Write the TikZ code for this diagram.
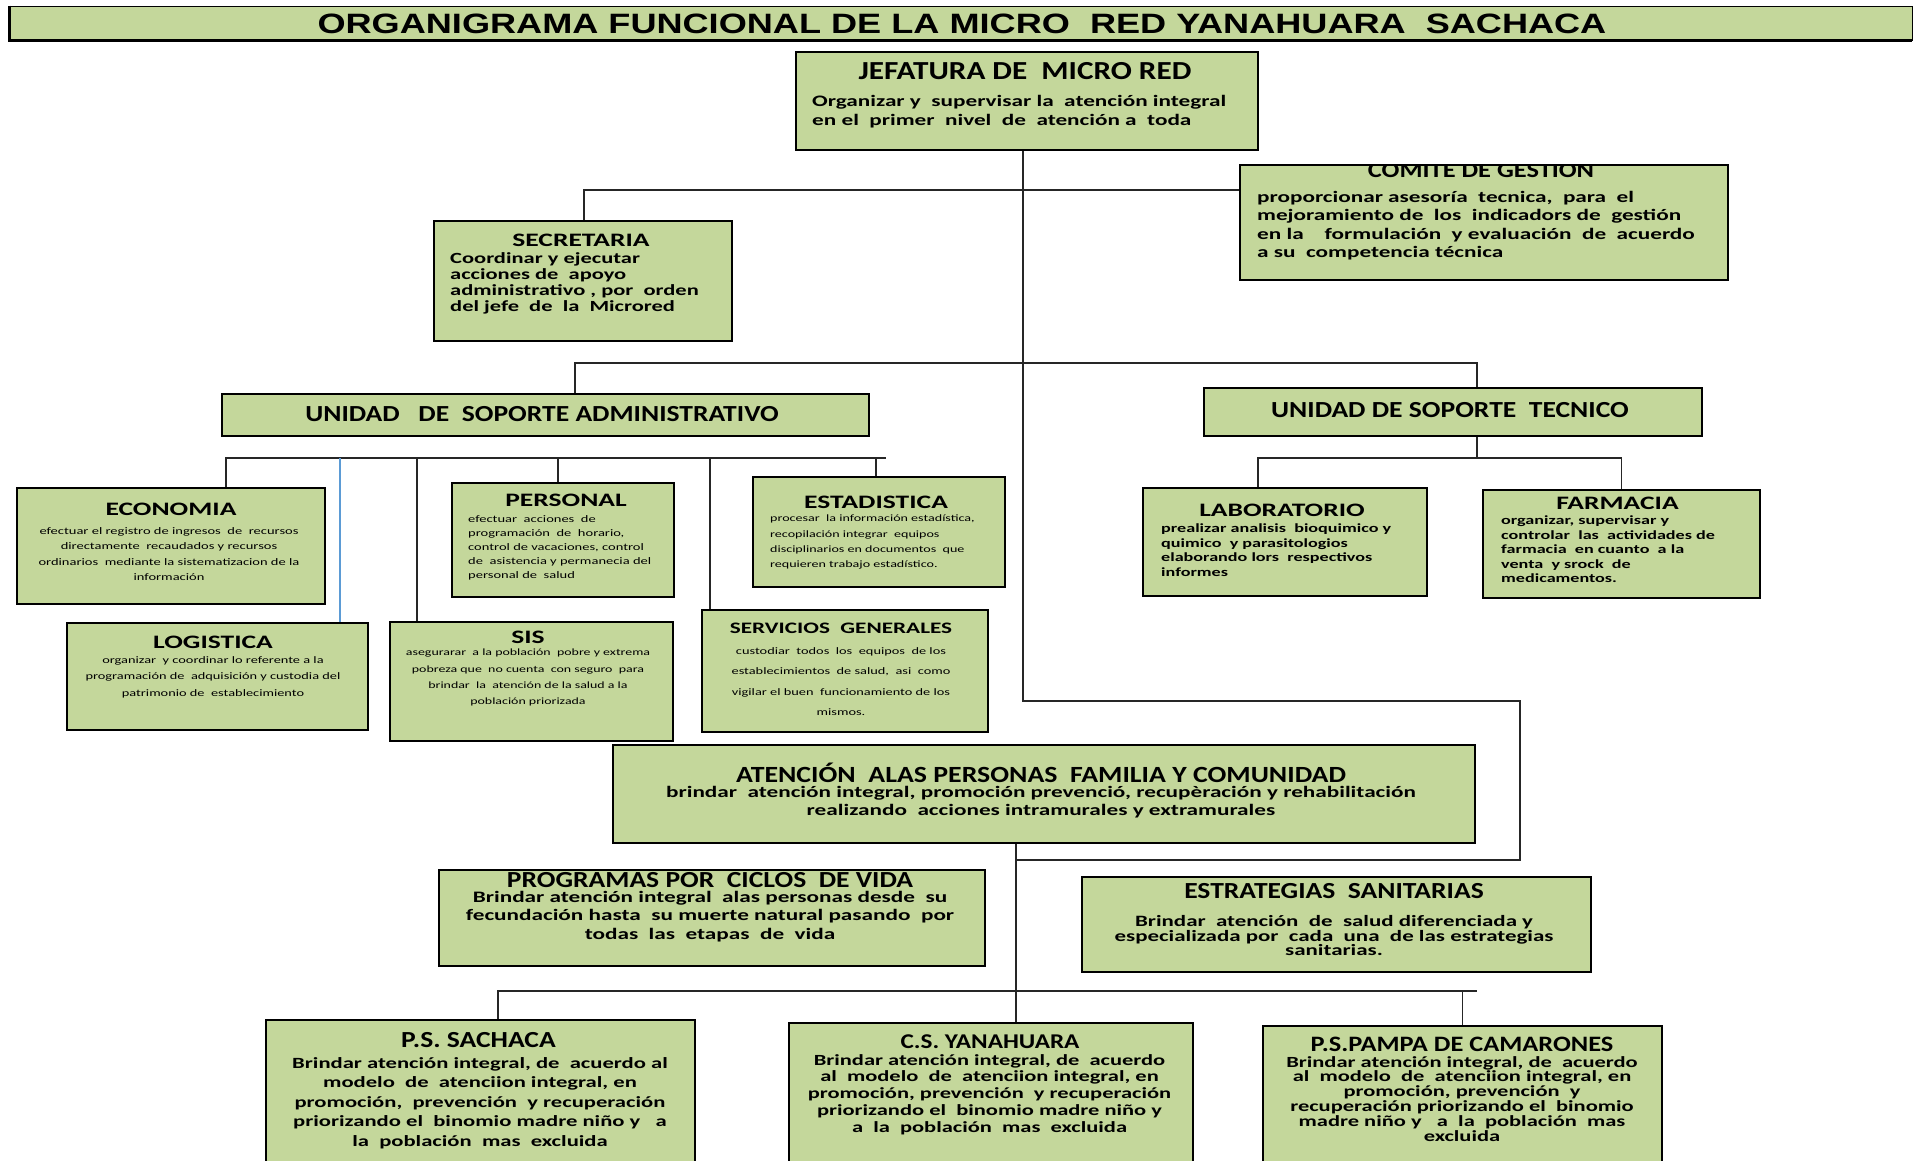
\documentclass[tikz,border=0pt]{standalone}
\usepackage{fontspec}
\setmainfont{Carlito}[FakeStretch=1.2]
\newfontfamily\ancha{Carlito}[FakeStretch=1.45]
\newfontfamily\titfont{Liberation Sans}[FakeStretch=1.29]
\definecolor{verdeorg}{HTML}{C4D79B}
\definecolor{azul}{HTML}{5B9BD5}
\tikzset{
	caja/.style={draw=black, line width=1.6pt, fill=verdeorg, inner sep=0pt},
	linea/.style={draw=black!85, line width=1.4pt},
	titulo/.style={inner sep=0pt, font=\bfseries\fontsize{23}{24}\selectfont},
	subt/.style={inner sep=0pt, font=\ancha\bfseries\fontsize{19}{20}\selectfont},
	cuerpo/.style={inner sep=0pt, anchor=north, align=center},
	izq/.style={inner sep=0pt, anchor=north west, align=left},
}

\begin{document}
\begin{tikzpicture}[x=1pt,y=-1pt]
	\useasboundingbox (0,0) rectangle (1919,1160);
	\fill[white] (0,0) rectangle (1919,1160);

	% barra del titulo
	\node[caja, line width=0.8pt, minimum width=1902, minimum height=34] (barra) at (961,23) {};
	\draw[line width=3pt] (barra.north west) |- (barra.south east);
	\node[inner sep=0pt, font=\titfont\bfseries\fontsize{28}{28}\selectfont] (barraT) at (962,24) {ORGANIGRAMA FUNCIONAL DE LA MICRO\ \ RED YANAHUARA\ \ SACHACA};

	% jefatura y organos de apoyo
	\node[caja, minimum width=462, minimum height=98] (jef) at (1027,101) {};
	\node[titulo, font=\bfseries\fontsize{26}{26}\selectfont] (jefT) at (1025,71) {JEFATURA DE\ \ MICRO RED};
	\node[izq, font=\ancha\bfseries\fontsize{16}{19}\selectfont] (jefB) at (812,95) {Organizar y\ \ supervisar la\ \ atención integral\\en el\ \ primer\ \ nivel\ \ de\ \ atención a\ \ toda};

	\node[caja, minimum width=488, minimum height=115] (com) at (1484,222.5) {};
	\begin{scope}
	\clip ([yshift=-1pt]com.north west) rectangle (com.south east);
	\node[inner sep=0pt, font=\bfseries\fontsize{22}{22}\selectfont] (comT) at (1481,170) {COMITE DE GESTION};
	\end{scope}
	\node[izq, font=\ancha\bfseries\fontsize{16}{18.4}\selectfont] (comB) at (1257,191) {proporcionar asesoría\ \ tecnica,\ \ para\ \ el\\mejoramiento de\ \ los\ \ indicadors de\ \ gestión\\en la\ \ \ \ formulación\ \ y evaluación\ \ de\ \ acuerdo\\a su\ \ competencia técnica};

	\node[caja, minimum width=298, minimum height=120] (sec) at (583,281) {};
	\node[subt] (secT) at (581,240) {SECRETARIA};
	\node[izq, font=\ancha\bfseries\fontsize{15.5}{16}\selectfont] (secB) at (450,252) {Coordinar y ejecutar\\acciones de\ \ apoyo\\administrativo , por\ \ orden\\del jefe\ \ de\ \ la\ \ Microred};

	% unidades de soporte
	\node[caja, minimum width=647, minimum height=42] (adm) at (545.5,415) {};
	\node[titulo] (admT) at (542,414) {UNIDAD\ \ \ DE\ \ SOPORTE ADMINISTRATIVO};
	\node[caja, minimum width=498, minimum height=48] (tec) at (1453,412) {};
	\node[titulo] (tecT) at (1450,410) {UNIDAD DE SOPORTE\ \ TECNICO};

	% areas administrativas
	\node[caja, minimum width=308, minimum height=116] (eco) at (171,546) {};
	\node[subt] (ecoT) at (171,509) {ECONOMIA};
	\node[cuerpo, font=\ancha\fontsize{10}{15.5}\selectfont] (ecoB) at (169,527) {efectuar el registro de ingresos\ \ de\ \ recursos\\directamente\ \ recaudados y recursos\\ordinarios\ \ mediante la sistematizacion de la\\información};

	\node[caja, minimum width=301, minimum height=107] (log) at (217.5,676.5) {};
	\node[subt] (logT) at (213,642) {LOGISTICA};
	\node[cuerpo, font=\ancha\fontsize{9.9}{16.5}\selectfont] (logB) at (213,656) {organizar\ \ y coordinar lo referente a la\\programación de\ \ adquisición y custodia del\\patrimonio de\ \ establecimiento};

	\node[caja, minimum width=222, minimum height=114] (per) at (563,540) {};
	\node[subt] (perT) at (566,500) {PERSONAL};
	\node[izq, font=\ancha\fontsize{10}{14.2}\selectfont] (perB) at (468,515) {efectuar\ \ acciones\ \ de\\programación\ \ de\ \ horario,\\control de vacaciones, control\\de\ \ asistencia y permanecia del\\personal de\ \ salud};

	\node[caja, minimum width=283, minimum height=119] (sis) at (531.5,681.5) {};
	\node[subt] (sisT) at (528,637) {SIS};
	\node[cuerpo, font=\ancha\fontsize{9.6}{16.3}\selectfont] (sisB) at (528,649) {asegurarar\ \ a la población\ \ pobre y extrema\\pobreza que\ \ no cuenta\ \ con seguro\ \ para\\brindar\ \ la\ \ atención de la salud a la\\población priorizada};

	\node[caja, minimum width=252, minimum height=110] (est) at (879,532) {};
	\node[subt] (estT) at (876,502) {ESTADISTICA};
	\node[izq, font=\ancha\fontsize{9.7}{15.3}\selectfont] (estB) at (770,515) {procesar\ \ la información estadística,\\recopilación integrar\ \ equipos\\disciplinarios en documentos\ \ que\\requieren trabajo estadístico.};

	\node[caja, minimum width=286, minimum height=122] (ser) at (845,671) {};
	\node[subt, font=\ancha\bfseries\fontsize{16}{16}\selectfont] (serT) at (841,628) {SERVICIOS\ \ GENERALES};
	\node[cuerpo, font=\ancha\fontsize{9.9}{20.5}\selectfont] (serB) at (841,647) {custodiar\ \ todos\ \ los\ \ equipos\ \ de los\\establecimientos\ \ de salud,\ \ asi\ \ como\\vigilar el buen\ \ funcionamiento de los\\mismos.};

	% areas tecnicas
	\node[caja, minimum width=284, minimum height=108] (lab) at (1285,542) {};
	\node[subt] (labT) at (1282,510) {LABORATORIO};
	\node[izq, font=\ancha\bfseries\fontsize{12.5}{14.7}\selectfont] (labB) at (1161,523.5) {prealizar analisis\ \ bioquimico y\\quimico\ \ y parasitologios\\elaborando lors\ \ respectivos\\informes};

	\node[caja, minimum width=277, minimum height=108] (far) at (1621.5,544) {};
	\node[subt] (farT) at (1617.5,503) {FARMACIA};
	\node[izq, font=\ancha\bfseries\fontsize{12.5}{14.4}\selectfont] (farB) at (1501,516) {organizar, supervisar y\\controlar\ \ las\ \ actividades de\\farmacia\ \ en cuanto\ \ a la\\venta\ \ y srock\ \ de\\medicamentos.};

	% atencion a las personas
	\node[caja, minimum width=862, minimum height=98] (ate) at (1044,794) {};
	\node[titulo, font=\bfseries\fontsize{23.2}{24}\selectfont] (ateT) at (1041,773) {ATENCIÓN\ \ ALAS PERSONAS\ \ FAMILIA Y COMUNIDAD};
	\node[cuerpo, font=\ancha\bfseries\fontsize{16}{18}\selectfont] (ateB) at (1041,786) {brindar\ \ atención integral, promoción prevenció, recupèración y rehabilitación\\realizando\ \ acciones intramurales y extramurales};

	\node[caja, minimum width=546, minimum height=96] (pro) at (712,918) {};
	\node[titulo] (proT) at (710,880) {PROGRAMAS POR\ \ CICLOS\ \ DE VIDA};
	\node[cuerpo, font=\ancha\bfseries\fontsize{16}{18.5}\selectfont] (proB) at (710,891) {Brindar atención integral\ \ alas personas desde\ \ su\\fecundación hasta\ \ su muerte natural pasando\ \ por\\todas\ \ las\ \ etapas\ \ de\ \ vida};

	\node[caja, minimum width=509, minimum height=95] (esa) at (1336.5,924.5) {};
	\node[titulo] (esaT) at (1334,891) {ESTRATEGIAS\ \ SANITARIAS};
	\node[cuerpo, font=\ancha\bfseries\fontsize{15.8}{14.7}\selectfont] (esaB) at (1334,915) {Brindar\ \ atención\ \ de\ \ salud diferenciada y\\especializada por\ \ cada\ \ una\ \ de las estrategias\\sanitarias.};

	% establecimientos
	\node[caja, minimum width=429, minimum height=150] (sac) at (480.5,1095) {};
	\node[titulo] (sacT) at (478.5,1040) {P.S. SACHACA};
	\node[cuerpo, font=\ancha\bfseries\fontsize{15.6}{19.5}\selectfont] (sacB) at (480,1057) {Brindar atención integral, de\ \ acuerdo al\\modelo\ \ de\ \ atenciion integral, en\\promoción,\ \ prevención\ \ y recuperación\\priorizando el\ \ binomio madre niño y\ \ \ a\\la\ \ población\ \ mas\ \ excluida};

	\node[caja, minimum width=404, minimum height=147] (yan) at (991,1096.5) {};
	\node[titulo, font=\bfseries\fontsize{21}{21}\selectfont] (yanT) at (990,1042) {C.S. YANAHUARA};
	\node[cuerpo, font=\ancha\bfseries\fontsize{15.5}{16.75}\selectfont] (yanB) at (989.5,1054) {Brindar atención integral, de\ \ acuerdo\\al\ \ modelo\ \ de\ \ atenciion integral, en\\promoción, prevención\ \ y recuperación\\priorizando el\ \ binomio madre niño y\\a\ \ la\ \ población\ \ mas\ \ excluida};

	\node[caja, minimum width=399, minimum height=144] (pam) at (1462.5,1098) {};
	\node[titulo, font=\bfseries\fontsize{22}{22}\selectfont] (pamT) at (1462,1044) {P.S.PAMPA DE CAMARONES};
	\node[cuerpo, font=\ancha\bfseries\fontsize{15.5}{14.8}\selectfont] (pamB) at (1462,1056) {Brindar atención integral, de\ \ acuerdo\\al\ \ modelo\ \ de\ \ atenciion integral, en\\promoción, prevención\ \ y\\recuperación priorizando el\ \ binomio\\madre niño y\ \ \ a\ \ la\ \ población\ \ mas\\excluida};

	% conectores
	\coordinate (tA) at (1023,701);
	\coordinate (tB) at (1520,860);
	\coordinate (tC) at (1016,860);
	\draw[linea] (jef.south -| tA) -- (tA) -| (tB) -- (tC);
	\draw[linea] (ate.south -| tC) -- (tC |- yan.north);

	\coordinate (sA) at (584,190);
	\draw[linea] (com.west |- sA) -- (sA) -- (sA |- sec.north);

	\coordinate (uA) at (575,363);
	\coordinate (uB) at (1477,363);
	\draw[linea] (uA |- adm.north) -- (uA) -- (uB) -- (uB |- tec.north);

	\coordinate (aA) at (226,458);
	\coordinate (aB) at (886,458);
	\draw[linea] (aA |- eco.north) -- (aA) -- (aB);
	\coordinate (aL) at (340,458);
	\draw[linea, draw=azul] (aL) -- (aL |- log.north);
	\foreach \x/\dest in {417/sis,558/per,710/ser,876/est}{
		\coordinate (aX) at (\x,458);
		\draw[linea] (aX) -- (aX |- \dest.north);
	}

	\coordinate (tT) at (1477,458);
	\coordinate (tL) at (1258,458);
	\draw[linea] (uB |- tec.south) -- (tT);
	\draw[linea] (tL |- lab.north) -- (tL) -- (tL -| far.north) -- (far.north);

	\coordinate (pA) at (498,991);
	\coordinate (pB) at (1477,991);
	\draw[linea] (pA |- sac.north) -- (pA) -- (pB);
	\draw[linea] (pam.north |- pA) -- (pam.north);
\end{tikzpicture}
\end{document}
